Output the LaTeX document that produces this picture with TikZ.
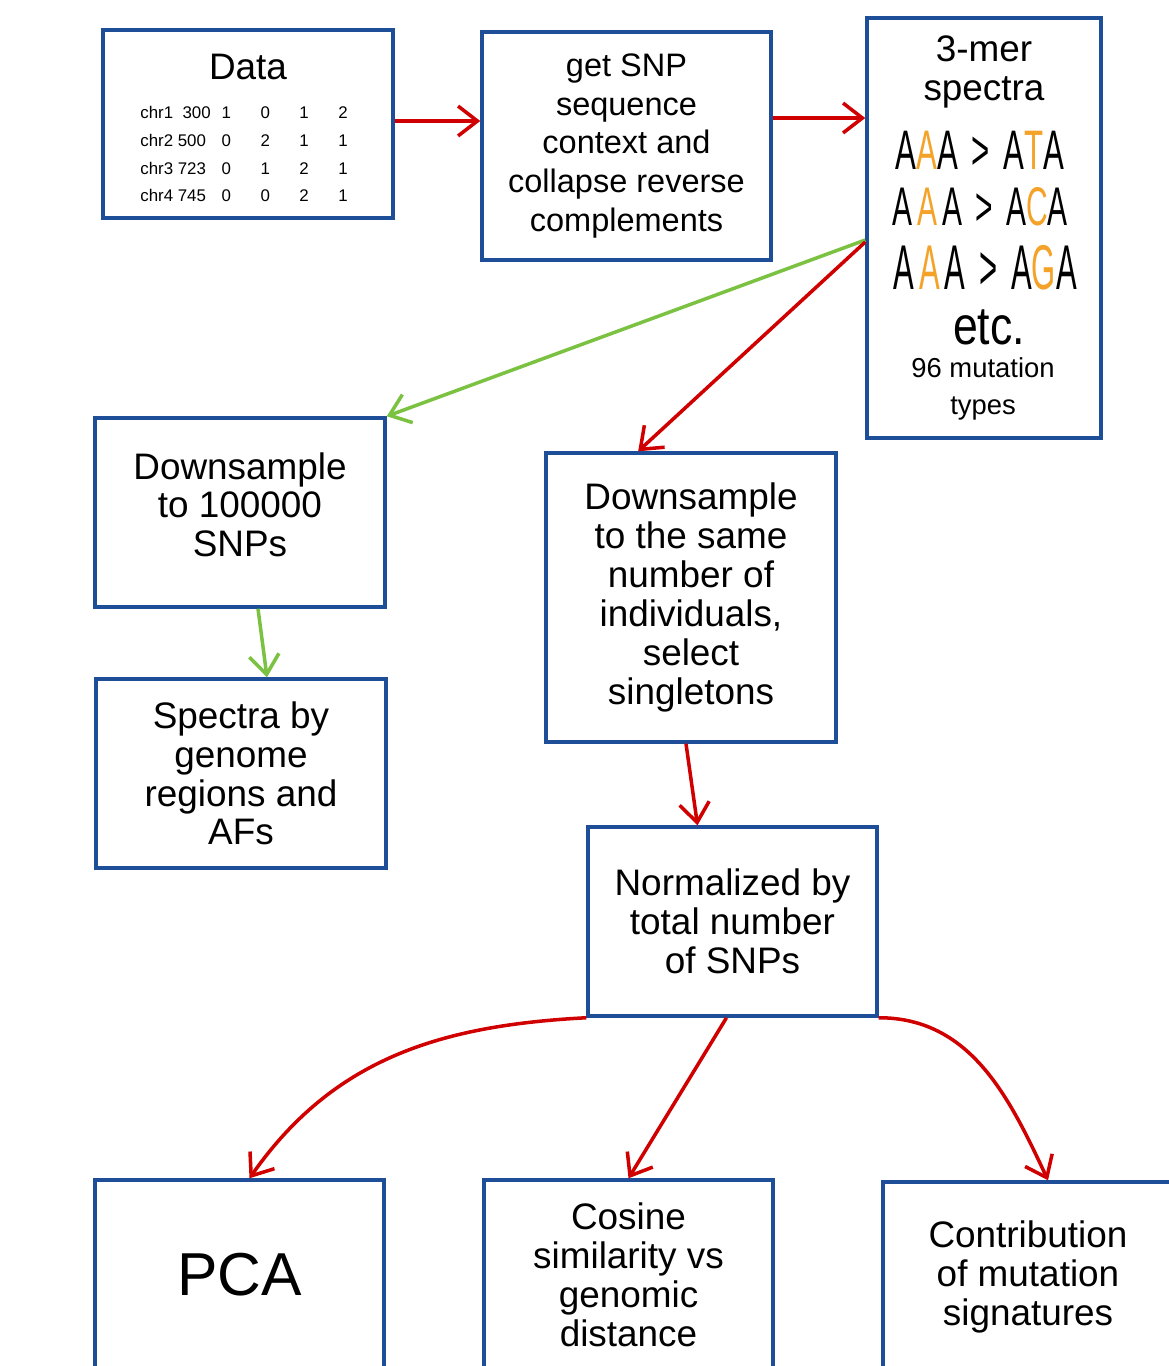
\documentclass[tikz,border=0pt]{standalone}
\usepackage{fontspec}
\setmainfont{Liberation Sans}
\usetikzlibrary{arrows.meta,calc}
\definecolor{bxblue}{RGB}{31,78,152}
\definecolor{arred}{RGB}{208,0,0}
\definecolor{argreen}{RGB}{124,194,66}
\definecolor{hworange}{RGB}{244,162,40}
\newcommand{\fs}[2]{\fontsize{#1}{#2}\selectfont}
\newcommand{\og}[1]{\textcolor{hworange}{#1}}
\begin{document}
\begin{tikzpicture}[x=0.02cm,y=-0.02cm,>={Straight Barb[length=11pt,width=17pt]},
	bx/.style={draw=bxblue,line width=2pt,align=center,inner sep=0pt,font=\fs{21}{22.1}},
	hw/.style={inner sep=0pt},
	rd/.style={->,arred,line width=2pt},
	gr/.style={->,argreen,line width=2pt}]
	\clip (0,0) rectangle (1169,1366);
	% boxes
	\node[bx,minimum width=5.8cm,minimum height=3.76cm] (data) at (248,124) {};
	\node (datat) at (248,67) {\fs{21}{22}Data};
	\node[inner sep=0pt] (tab) at (244,154.5) {\fs{9.6}{15.9}%
		\begin{tabular}{@{}l@{\hspace{0.22cm}}c@{\hspace{0.59cm}}c@{\hspace{0.59cm}}c@{\hspace{0.59cm}}c@{}}
		chr1\ \ 300&1&0&1&2\\ chr2 500&0&2&1&1\\ chr3 723&0&1&2&1\\ chr4 745&0&0&2&1
		\end{tabular}};
	\node[bx,minimum width=5.78cm,minimum height=4.56cm,font=\fs{18.5}{22.1}] (snp) at (626.5,146)
		{get SNP\\sequence\\context and\\collapse reverse\\complements};
	\node[bx,minimum width=4.68cm,minimum height=8.4cm] (mer) at (984,228) {};
	\node[align=center,inner sep=0pt,font=\fs{21}{22.7}] (mert) at (984,72) {3-mer\\spectra};
	\node[hw] (hw1) at (980,150) {\scalebox{0.56}[1]{\fs{31.7}{32}A\og{A}A \,>\, A\og{T}A}};
	\node[hw] (hw2) at (980,207) {\scalebox{0.55}[1]{\fs{31}{32}A\,\og{A}\,A \,>\, A\og{C}A}};
	\node[hw] (hw3) at (985,268) {\scalebox{0.49}[1]{\fs{36}{37}A\,\og{A}\,A \,>\, A\og{G}A}};
	\node[hw] (hw4) at (989,327) {\scalebox{0.83}[1]{\fs{30.6}{31}etc.}};
	\node[align=center,inner sep=0pt,font=\fs{15.6}{21.5}] (mert2) at (983,389) {96 mutation\\types};
	\node[bx,minimum width=5.8cm,minimum height=3.78cm] (ds1) at (240,512.5) {Downsample\\to 100000\\SNPs\\[-0.46cm]};
	\node[bx,minimum width=5.8cm,minimum height=3.78cm] (spec) at (241,773.5) {Spectra by\\genome\\regions and\\AFs};
	\node[bx,minimum width=5.8cm,minimum height=5.78cm] (ds2) at (691,597.5)
		{Downsample\\to the same\\number of\\individuals,\\select\\singletons};
	\node[bx,minimum width=5.78cm,minimum height=3.78cm] (norm) at (732.5,921.5) {Normalized by\\total number\\of SNPs};
	\node[bx,minimum width=5.78cm,minimum height=3.8cm,font=\fs{34.5}{36}] (pca) at (239.5,1275) {PCA};
	\node[bx,minimum width=5.78cm,minimum height=3.8cm] (cos) at (628.5,1275) {Cosine\\similarity vs\\genomic\\distance};
	\node[bx,minimum width=5.8cm,minimum height=3.8cm] (con) at (1028,1277) {Contribution\\of mutation\\signatures};
	% arrows
	\draw[rd] ($(data.east)+(0,-3)$) coordinate (a1) -- (a1 -| snp.west);
	\draw[rd] ($(snp.east)+(0,-28)$) coordinate (a2) -- (a2 -| mer.west);
	\draw[gr] ($(mer.west)+(0,12)$) -- (ds1.north east);
	\draw[rd] ($(mer.west)+(0,14)$) -- ($(ds2.north west)!0.32!(ds2.north east)$);
	\draw[gr] ($(ds1.south)+(18,0)$) -- ($(spec.north)+(26,0)$);
	\draw[rd] ($(ds2.south)+(-5,0)$) -- ($(norm.north)+(-35,0)$);
	\draw[rd] (norm.south west) to[out=183,in=55] ($(pca.north)+(10,0)$);
	\draw[rd] ($(norm.south)+(-6,0)$) -- (cos.north);
	\draw[rd] (norm.south east) to[out=0,in=115] ($(con.north)+(20,0)$);
\end{tikzpicture}
\end{document}
